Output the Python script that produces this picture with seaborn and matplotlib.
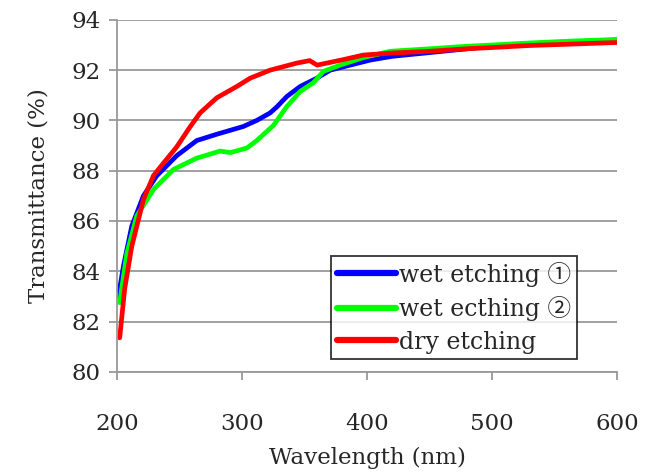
import numpy as np
import pandas as pd
import matplotlib.pyplot as plt
import seaborn as sns

# values
wl_blue = [201, 205, 211.7, 221, 231.7, 247.7, 263.7, 279.7, 290, 301, 311.7, 322.4, 328, 335.7,
           346.4, 359.7, 370.4, 386.4, 402.4, 420, 450.4, 480, 500, 530, 560, 600]
tr_blue = [83.0, 84.2, 85.8, 87.0, 87.8, 88.6, 89.2, 89.45, 89.6, 89.76, 90.0, 90.3, 90.55, 90.95,
           91.35, 91.68, 92.0, 92.2, 92.4, 92.55, 92.7, 92.85, 92.95, 93.05, 93.12, 93.2]

wl_green = [202, 207.7, 215.7, 229, 245, 263.7, 282.4, 290.4, 303.7, 311.7, 325, 335.7, 346.4,
            357, 365, 378.4, 397, 418.4, 450, 480, 500, 530, 560, 600]
tr_green = [82.75, 84.7, 86.2, 87.25, 88.05, 88.5, 88.78, 88.72, 88.9, 89.2, 89.8, 90.55, 91.15,
            91.5, 91.95, 92.2, 92.5, 92.75, 92.85, 92.95, 93.0, 93.08, 93.15, 93.22]

wl_red = [202, 206, 211.7, 221, 229, 237, 247.7, 258.4, 266.4, 279.7, 295.7, 306.4, 322.4, 343.7,
          354, 360, 381, 397, 420, 450, 480, 500, 530, 560, 600]
tr_red = [81.35, 83.3, 85.0, 86.85, 87.8, 88.3, 88.95, 89.75, 90.3, 90.9, 91.35, 91.68, 92.0, 92.28,
          92.38, 92.2, 92.42, 92.6, 92.68, 92.75, 92.85, 92.9, 92.98, 93.03, 93.1]

labels = ['wet etching \u2460', 'wet ecthing \u2461', 'dry etching']
colors = ['#0000ff', '#00ff00', '#ff0000']

df = pd.concat([
    pd.DataFrame({'wl': wl_blue, 'tr': tr_blue, 'sample': labels[0]}),
    pd.DataFrame({'wl': wl_green, 'tr': tr_green, 'sample': labels[1]}),
    pd.DataFrame({'wl': wl_red, 'tr': tr_red, 'sample': labels[2]}),
])

sns.set_style('white')
plt.rcParams['font.family'] = ['DejaVu Serif', 'Noto Sans CJK JP']

fig = plt.figure(figsize=(6.51, 4.73), dpi=100)
ax = fig.add_axes([0.18, 0.214, 0.768, 0.744])

sns.lineplot(data=df, x='wl', y='tr', hue='sample', palette=colors, linewidth=3.4,
             sort=False, estimator=None, ax=ax)

ax.set_xlim(200, 600)
ax.set_ylim(80, 94)
ax.set_xticks(range(200, 601, 100))
ax.set_yticks(range(80, 95, 2))
ax.yaxis.grid(True, color='#999999', linewidth=1.3)
ax.set_axisbelow(True)
for s in ['top', 'right']:
    ax.spines[s].set_visible(False)
for s in ['left', 'bottom']:
    ax.spines[s].set_color('#999999')
    ax.spines[s].set_linewidth(1.3)
ax.tick_params(axis='both', which='major', direction='out', length=6, width=1.3,
               color='#999999', labelsize=16.5, bottom=True, left=True)
ax.tick_params(axis='y', pad=6)
ax.tick_params(axis='x', pad=24)
ax.set_xlabel('Wavelength (nm)', fontsize=16.5, labelpad=8)
ax.set_ylabel('Transmittance (%)', fontsize=16.5, labelpad=16)

leg = ax.legend(loc='lower right', bbox_to_anchor=(0.92, 0.035), fontsize=17,
                frameon=True, fancybox=False, handlelength=2.5, handletextpad=0.15,
                borderpad=0.25, labelspacing=0.4, borderaxespad=0)
leg.get_frame().set_edgecolor('black')
leg.get_frame().set_linewidth(1.3)
for line in leg.get_lines():
    line.set_linewidth(4.5)

fig.savefig('out.png', dpi=100)
